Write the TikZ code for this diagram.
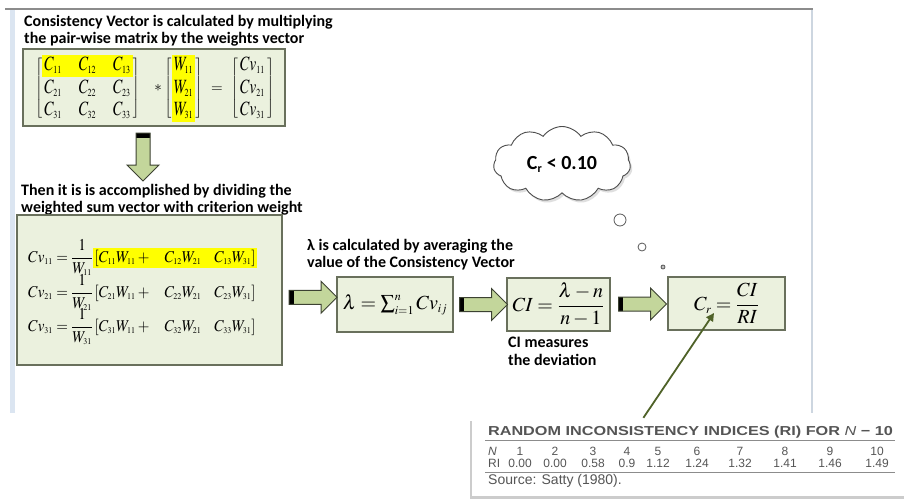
\documentclass[tikz,border=0pt]{standalone}
\usepackage{amsmath}
\usepackage{mathptmx}
\usepackage[no-math]{fontspec}
\setmainfont{Carlito}
\newfontfamily\tablefont{Liberation Sans}
\usepackage{graphicx}
\usepackage{tikz}
\usetikzlibrary{shapes,arrows,positioning,fit,backgrounds,calc,arrows.meta,matrix,shadows}
\definecolor{boxfill}{RGB}{235,241,222}
\definecolor{boxedge}{RGB}{105,112,92}
\definecolor{arrowfill}{RGB}{195,214,155}
\definecolor{arrowedge}{RGB}{60,66,50}
\definecolor{hiliteyellow}{RGB}{255,255,0}
\definecolor{pointergreen}{RGB}{79,98,40}
\definecolor{tablegray}{RGB}{85,85,85}
\definecolor{slideblue}{RGB}{219,229,241}
\setlength{\fboxsep}{1.5pt}
% small, tight indices as in the slide
\DeclareMathSizes{15}{15}{8}{6}
\DeclareMathSizes{20}{20}{12}{9}
% narrow, tall matrix entries
\newcommand{\tallm}[1]{\scalebox{1}[1.35]{$#1$}}

\begin{document}
\begin{tikzpicture}[
    x=1pt, y=-1pt,
    box/.style={rectangle, draw=boxedge, fill=boxfill, line width=1.5pt, inner sep=0pt},
    remark/.style={anchor=north west, inner sep=0pt, align=left, font=\bfseries\fontsize{16}{17.5}\selectfont},
    mathmid/.style={inner sep=0pt, font=\fontsize{15}{18}\selectfont},
    mathbig/.style={font=\fontsize{20}{24}\selectfont},
    mathgrid/.style={matrix of nodes, row sep=3pt, column sep=15pt, mathmid,
        nodes={inner sep=1pt, text height=13.5pt, text depth=4pt},
        left delimiter={[}, right delimiter={]},
        every delimiter/.style={inner sep=0pt},
        every left delimiter/.style={xshift=-3pt},
        every right delimiter/.style={xshift=3pt}},
    hilite/.style={fill=hiliteyellow, inner sep=1pt},
    blockarrow/.style={single arrow, draw=arrowedge, fill=arrowfill, line width=1pt,
        minimum height=48pt, minimum width=31pt, single arrow head extend=9pt, inner sep=6.5pt},
    rarrow/.style={blockarrow, path picture={\fill[black] (path picture bounding box.south west)
        rectangle ([xshift=4.5pt]path picture bounding box.north west);}},
    darrow/.style={blockarrow, shape border rotate=270, path picture={\fill[black] (path picture bounding box.north west)
        rectangle ([yshift=-4.5pt]path picture bounding box.north east);}},
    eqline/.style={anchor=base west, inner sep=0pt, font=\fontsize{15}{18}\selectfont},
    bubble/.style={circle, draw=black!65, fill=white, line width=0.8pt, inner sep=0pt},
    pointer/.style={-{Triangle[length=8pt,width=8pt]}, line width=1.8pt, draw=pointergreen},
    tabtext/.style={inner sep=0pt, text=tablegray, font=\tablefont\fontsize{12}{12}\selectfont},
    tabcell/.style={tabtext, anchor=base},
    tabrule/.style={draw=black!45, line width=1pt}
]
\useasboundingbox (0,0) rectangle (910,501);

% slide frame and the vector box behind the highlights
\begin{scope}[on background layer]
\fill[white] (0,0) rectangle (910,501);
\fill[slideblue] (10,10) rectangle (15,413);
\draw[slideblue!85!gray, line width=1.5pt] (812,10) -- (812,413);
\draw[black!45, line width=2.5pt] (5,9) -- (813,9);
\node[box, minimum width=262pt, minimum height=77pt] (vecbox) at (154,87.5) {};
\end{scope}

\node[remark] (vectext) at (24,15) {Consistency Vector is calculated by multiplying\\the pair-wise matrix by the weights vector};

% C * W = Cv
\matrix (cmat) [mathgrid] at (87.5,88.5) {
\tallm{C_{11}} & \tallm{C_{12}} & \tallm{C_{13}}\\
\tallm{C_{21}} & \tallm{C_{22}} & \tallm{C_{23}}\\
\tallm{C_{31}} & \tallm{C_{32}} & \tallm{C_{33}}\\
};
\node[mathmid] (times) at (158,88) {$\ast$};
\matrix (wmat) [mathgrid] at (183.5,88.5) {
\tallm{W_{11}}\\
\tallm{W_{21}}\\
\tallm{W_{31}}\\
};
\node[mathmid] (equals) at (217,89.5) {$=$};
\matrix (cvmat) [mathgrid] at (252.5,88.5) {
\tallm{Cv_{11}}\\
\tallm{Cv_{21}}\\
\tallm{Cv_{31}}\\
};
\begin{scope}[on background layer]
\node[hilite, fit=(cmat-1-1)(cmat-1-3)] (crow) {};
\node[hilite, fit=(wmat-1-1)(wmat-3-1)] (wcol) {};
\end{scope}

\node[darrow] (arrdown) at (143,153.5) {};

\node[remark] (dividetext) at (21,184) {Then it is is accomplished by dividing the\\weighted sum vector with criterion weight};

% weighted sums divided by the weights
\node[box, minimum width=265pt, minimum height=150pt] (bigbox) at (149.5,290) {};
\node[eqline] (cvone) at (28,262) {\scalebox{1}[1.1]{$Cv_{11} = \dfrac{1}{W_{11}}\colorbox{hiliteyellow}{$[C_{11}W_{11} + \hspace{13pt} C_{12}W_{21} \hspace{13pt} C_{13}W_{31}]$}$}};
\node[eqline] (cvtwo) at (28,297) {\scalebox{1}[1.1]{$Cv_{21} = \dfrac{1}{W_{21}}\hspace{\fboxsep}[C_{21}W_{11} + \hspace{13pt} C_{22}W_{21} \hspace{13pt} C_{23}W_{31}]$}};
\node[eqline] (cvthree) at (28,331) {\scalebox{1}[1.1]{$Cv_{31} = \dfrac{1}{W_{31}}\hspace{\fboxsep}[C_{31}W_{11} + \hspace{13pt} C_{32}W_{21} \hspace{13pt} C_{33}W_{31}]$}};

\node[remark] (lambdatext) at (307,239) {λ is calculated by averaging the\\value of the Consistency Vector};

% lambda -> CI -> Cr
\node[box, minimum width=116pt, minimum height=55pt, mathbig] (lambox) at (395,304.5) {$\lambda = \sum\nolimits_{i=1}^{n} Cv_{ij}$};
\node[box, minimum width=103pt, minimum height=53pt, mathbig] (cibox) at (558.5,304.5) {$CI = \dfrac{\lambda - n}{n - 1}$};
\node[box, minimum width=117pt, minimum height=53pt, mathbig] (crbox) at (726.5,303.5) {$C_r = \dfrac{CI}{RI}$};

\node[rarrow] (arrlam) at ($(bigbox.east)!0.5!(lambox.west)$) {};
\node[rarrow] (arrci) at ($(lambox.east)!0.5!(cibox.west)$) {};
\node[rarrow] (arrcr) at ($(cibox.east)!0.5!(crbox.west)$) {};

\node[remark] (citext) at (508,337) {CI measures\\the deviation};

% thought cloud
\node[cloud, draw=black!70, fill=white, line width=0.9pt, cloud puffs=11, cloud puff arc=110, aspect=1.9,
    minimum width=137pt, minimum height=75pt, inner sep=0pt,
    drop shadow={opacity=0.25, shadow xshift=2pt, shadow yshift=-2.5pt},
    font=\bfseries\fontsize{20}{24}\selectfont] (ratiocloud) at (562,164) {C\textsubscript{r} < 0.10};
\node[bubble, minimum size=12pt] (bubbleA) at (620,220) {};
\node[bubble, minimum size=8pt] (bubbleB) at (642,247) {};
\node[bubble, minimum size=4pt, fill=black!25] (bubbleC) at (663,267) {};

% RI table
\node[fill=white, minimum width=434pt, minimum height=78pt, inner sep=0pt,
    drop shadow={opacity=0.4, shadow xshift=-2pt, shadow yshift=-3pt}] (ritable) at (689,457) {};
\node[tabtext, font=\tablefont\bfseries\fontsize{13}{14}\selectfont, anchor=base] (rititle) at (690.5,435)
    {\scalebox{1.25}[1]{RANDOM INCONSISTENCY INDICES (RI) FOR \textit{\mdseries N} − 10}};
\draw[tabrule] (485,440) -- (895,440);
\node[tabtext, anchor=base west] (nhead) at (488,455) {\textit{N}};
\node[tabtext, anchor=base west] (rihead) at (488,467) {RI};
\foreach \n/\ri/\x in {1/0.00/520, 2/0.00/555, 3/0.58/593, 4/0.9/627, 5/1.12/658,
    6/1.24/697, 7/1.32/740, 8/1.41/785, 9/1.46/830, 10/1.49/877} {
  \node[tabcell] (n\n) at (\x,455) {\n};
  \node[tabcell] (ri\n) at (\x,467) {\ri};
}
\draw[tabrule] (485,472) -- (895,472);
\node[tabtext, font=\tablefont\fontsize{14}{15}\selectfont, anchor=base west] (source) at (488,484) {Source: Satty (1980).};

\coordinate (crtip) at (714,313);
\draw[pointer] ($(ritable.north west)!0.395!(ritable.north east)$) -- (crtip);

\end{tikzpicture}
\end{document}
